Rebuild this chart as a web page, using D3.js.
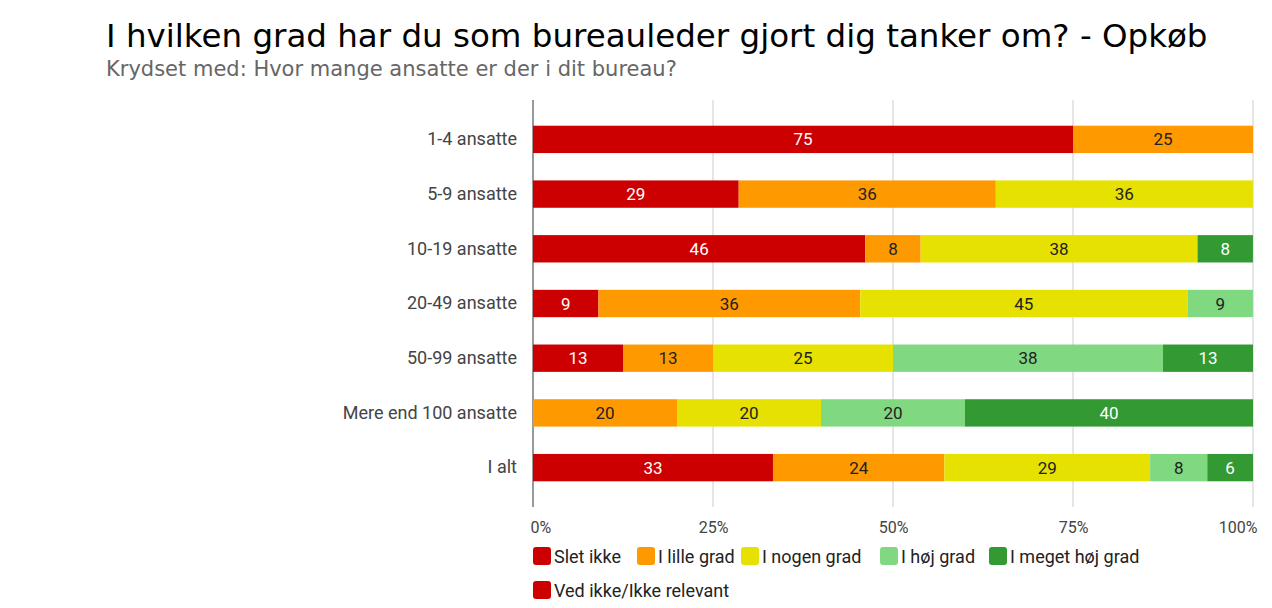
<!DOCTYPE html>
<html>
<head>
<meta charset="utf-8">
<script src="https://cdn.jsdelivr.net/npm/d3@7"></script>
<style>
  body { margin: 0; background: #fff; }
  #graf { width: 1272px; height: 608px; }
</style>
</head>
<body>
<div id="graf"></div>
<script>
// Opkøb - krydset med antal ansatte

// kategorier (rækker)
grupper = ['1-4 ansatte', '5-9 ansatte', '10-19 ansatte', '20-49 ansatte',
           '50-99 ansatte', 'Mere end 100 ansatte', 'I alt']

// svarmuligheder
svar = ['Slet ikke', 'I lille grad', 'I nogen grad', 'I høj grad', 'I meget høj grad', 'Ved ikke/Ikke relevant']
farver = ['#cc0000', '#ff9900', '#e6e100', '#80d880', '#339933', '#cc0000']

// procenter pr. svar (i samme rækkefølge som grupper)
sletIkke    = [75, 28.57, 46.15, 9.09, 12.5, 0, 33.33]
lilleGrad   = [25, 35.71, 7.69, 36.36, 12.5, 20, 23.81]
nogenGrad   = [0, 35.71, 38.46, 45.45, 25, 20, 28.57]
hoejGrad    = [0, 0, 0, 9.09, 37.5, 20, 7.94]
megetHoej   = [0, 0, 7.69, 0, 12.5, 40, 6.35]
vedIkke     = [0, 0, 0, 0, 0, 0, 0]

ticks = [0, 25, 50, 75, 100]

serier = [sletIkke, lilleGrad, nogenGrad, hoejGrad, megetHoej, vedIkke]

// tekstfarve inde i søjlerne
tekstFarve = ['#fff', '#222', '#222', '#222', '#fff', '#fff']

ancho_total = 1272
alto_total  = 608

margins = { top: 100, left: 533, right: 19, bottom: 101 }
ancho = ancho_total - margins.left - margins.right
alto  = alto_total - margins.top - margins.bottom

svg = d3.select('#graf').append('svg')
  .attr('width', ancho_total)
  .attr('height', alto_total)

// titel
svg.append('text')
  .attr('x', 106).attr('y', 47)
  .attr('font-family', 'DejaVu Sans')
  .attr('font-size', '32.5px')
  .attr('fill', '#000')
  .text('I hvilken grad har du som bureauleder gjort dig tanker om? - Opkøb')

svg.append('text')
  .attr('x', 106).attr('y', 76)
  .attr('font-family', 'DejaVu Sans')
  .attr('font-size', '21px')
  .attr('fill', '#666')
  .text('Krydset med: Hvor mange ansatte er der i dit bureau?')

g = svg.append('g')
  .attr('transform', `translate(${margins.left}, ${margins.top})`)

x = d3.scaleLinear().domain([0, 100]).range([0, ancho])
y = d3.scaleBand().domain(grupper).range([0, alto]).paddingInner(0.5).paddingOuter(0.47)

// gitterlinjer
g.selectAll('.grid')
  .data(ticks)
  .enter().append('line')
  .attr('x1', d => x(d)).attr('x2', d => x(d))
  .attr('y1', 0).attr('y2', alto)
  .attr('stroke', d => d == 0 ? '#999' : '#ccc')
  .attr('stroke-width', d => d == 0 ? 2 : 1)

// akse-tekster
xAxis = d3.axisBottom(x).tickValues(ticks).tickSize(0).tickPadding(7).tickFormat(d => d + '%')
ax = g.append('g').attr('transform', `translate(0, ${alto + 8})`).call(xAxis)
ax.select('.domain').remove()
ax.selectAll('text')
  .attr('font-family', 'Roboto').attr('font-size', '16px').attr('fill', '#444')
  .attr('text-anchor', (d, i) => i == 0 ? 'start' : (i == ticks.length - 1 ? 'end' : 'middle'))
  .attr('dx', (d, i) => i == 0 ? -3 : (i == ticks.length - 1 ? 4 : 0))

yAxis = d3.axisLeft(y).tickSize(0).tickPadding(16)
ay = g.append('g').call(yAxis)
ay.select('.domain').remove()
ay.selectAll('text')
  .attr('font-family', 'Roboto').attr('font-size', '18px').attr('fill', '#444')

// stablede data
rækker = grupper.map((gr, i) => {
  r = { gruppe: gr }
  svar.forEach((s, j) => r[s] = serier[j][i])
  return r
})
stak = d3.stack().keys(svar)(rækker)

lag = g.selectAll('.lag')
  .data(stak)
  .enter().append('g')
  .attr('fill', (d, i) => farver[i])

lag.selectAll('rect')
  .data(d => d)
  .enter().append('rect')
  .attr('x', d => x(d[0]))
  .attr('y', d => y(d.data.gruppe))
  .attr('width', d => x(d[1]) - x(d[0]))
  .attr('height', y.bandwidth())

stak.forEach((s, i) => {
  g.selectAll('.lbl' + i)
    .data(s.filter(d => d[1] - d[0] > 0))
    .enter().append('text')
    .attr('x', d => x((d[0] + d[1]) / 2))
    .attr('y', d => y(d.data.gruppe) + y.bandwidth() / 2 + 6)
    .attr('text-anchor', 'middle')
    .attr('font-family', 'Roboto')
    .attr('font-size', '17px')
    .attr('fill', tekstFarve[i])
    .text(d => Math.round(d[1] - d[0]))
})

// legende
legX = [533, 637, 741, 880, 989, 533]
legY = [556, 556, 556, 556, 556, 590]
svar.forEach((s, i) => {
  svg.append('rect')
    .attr('x', legX[i]).attr('y', legY[i] - 9)
    .attr('width', 18).attr('height', 18)
    .attr('rx', 3)
    .attr('fill', farver[i])
  svg.append('text')
    .attr('x', legX[i] + 21).attr('y', legY[i] + 7)
    .attr('font-family', 'Roboto').attr('font-size', '18px')
    .attr('fill', '#222')
    .text(s)
})
</script>
</body>
</html>
